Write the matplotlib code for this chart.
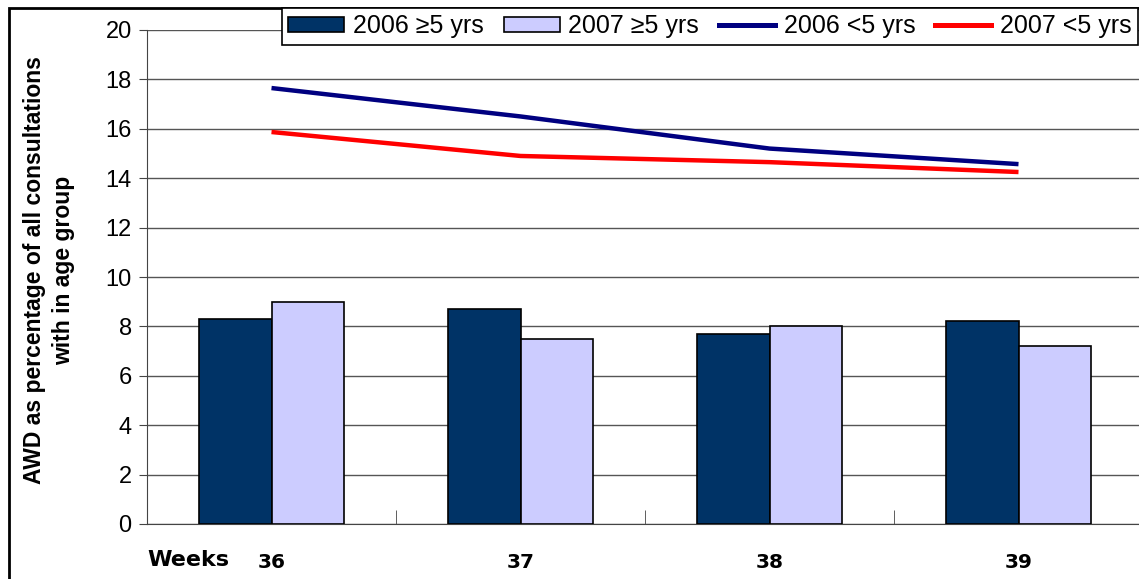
import matplotlib
matplotlib.use("Agg")
import matplotlib.pyplot as plt
from matplotlib.patches import Patch, Rectangle
from matplotlib.lines import Line2D
import numpy as np

weeks = ["36", "37", "38", "39"]
over5_2006 = [8.3, 8.7, 7.7, 8.2]
over5_2007 = [9.0, 7.5, 8.0, 7.2]
under5_2006 = [17.65, 16.5, 15.2, 14.57]
under5_2007 = [15.87, 14.9, 14.65, 14.25]
legend_labels = ["2006 \u22655 yrs", "2007 \u22655 yrs", "2006 <5 yrs", "2007 <5 yrs"]
ylabel = "AWD as percentage of all consultations\nwith in age group"

W, H = 1139, 579
fig = plt.figure(figsize=(W / 100, H / 100), dpi=100)
plt.rcParams['font.family'] = ['Liberation Sans', 'DejaVu Sans']

ax = fig.add_axes([147 / W, 1 - 524 / H, (W - 147) / W, (524 - 30) / H])
x = np.arange(len(weeks))
bw = 0.29
dark = "#003366"
light = "#CCCCFF"
ax.bar(x - bw / 2, over5_2006, bw, color=dark, edgecolor="black", linewidth=1.2, zorder=3)
ax.bar(x + bw / 2, over5_2007, bw, color=light, edgecolor="black", linewidth=1.2, zorder=3)
ax.plot(x, under5_2006, color="#000080", lw=3.2, zorder=4, solid_capstyle="butt")
ax.plot(x, under5_2007, color="#FF0000", lw=3.2, zorder=4, solid_capstyle="butt")

ax.set_xlim(-0.5, -0.5 + (W - 147) / 249.0)
ax.set_ylim(0, 20)
ax.set_yticks(np.arange(0, 21, 2))
ax.yaxis.grid(True, color="#555555", lw=1)
ax.set_axisbelow(True)
for s in ["top", "right"]:
    ax.spines[s].set_visible(False)
ax.spines["left"].set_color("#444444")
ax.spines["bottom"].set_color("#444444")
ax.tick_params(axis="y", direction="out", length=6, color="#444444", labelsize=17, pad=5)
ax.set_xticks(x)
ax.set_xticklabels(weeks, fontweight="bold", fontsize=14.5, family=["DejaVu Sans"])
ax.tick_params(axis="x", which="major", length=0, pad=21)
ax.set_xticks(np.arange(-0.5, 3.5, 1), minor=True)
ax.tick_params(axis="x", which="minor", length=10, direction="in", color="#444444")

fig.text(147 / W, 1 - 560 / H, "Weeks", fontweight="bold", fontsize=16,
         family=["DejaVu Sans"], ha="left", va="center")
fig.text(49 / W, 1 - 270 / H, ylabel, rotation=90, fontweight="bold", fontsize=16.5,
         ha="center", va="center", multialignment="center", linespacing=1.3)

handles = [
    Patch(facecolor=dark, edgecolor="black", lw=1.2),
    Patch(facecolor=light, edgecolor="black", lw=1.2),
    Line2D([0], [0], color="#000080", lw=3.6),
    Line2D([0], [0], color="#FF0000", lw=3.6),
]
leg = fig.legend(handles, legend_labels, ncol=4, loc="upper left",
                 bbox_to_anchor=(282 / W, 1 - 8 / H), fontsize=18, frameon=True,
                 fancybox=False, edgecolor="black", framealpha=1,
                 handlelength=2.24, handleheight=0.6, handletextpad=0.36,
                 columnspacing=0.78, borderpad=0.25, borderaxespad=0)
leg.get_frame().set_linewidth(1.2)

fig.patches.append(Rectangle((9 / W, -0.1), 1.2, 1 - 8 / H + 0.1, transform=fig.transFigure,
                             fill=False, edgecolor="black", lw=2))

fig.savefig("out.png", dpi=100)
